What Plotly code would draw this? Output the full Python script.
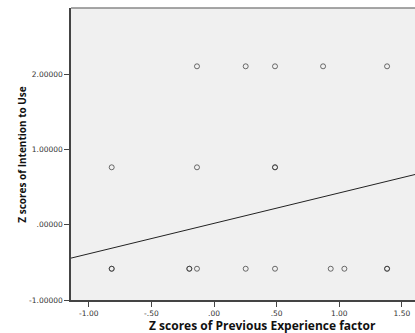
import plotly.graph_objects as go

# Data (duplicates where markers appear bold = overlapping)
x_vals = [-0.136, 0.253, 0.487, 0.871, 1.382,
          -0.817, -0.136, 0.487, 0.487,
          -0.817, -0.817, -0.197, -0.197, -0.136, 0.253, 0.487, 0.932, 1.041, 1.382, 1.382]
y_vals = [2.11, 2.11, 2.11, 2.11, 2.11,
          0.766, 0.766, 0.766, 0.766,
          -0.584, -0.584, -0.584, -0.584, -0.584, -0.584, -0.584, -0.584, -0.584, -0.584, -0.584]

fit_slope = 0.405
fit_intercept = 0.02

x_range = [-1.142, 1.605]
y_range = [-1.0, 2.886]

x_tickvals = [-1.0, -0.5, 0.0, 0.5, 1.0, 1.5]
x_ticktext = ["-1.00", "-.50", ".00", ".50", "1.00", "1.50"]
y_tickvals = [-1.0, 0.0, 1.0, 2.0]
y_ticktext = ["-1.00000", ".00000", "1.00000", "2.00000"]

fit_x = x_range
fit_y = [fit_intercept + fit_slope * v for v in fit_x]

fig = go.Figure()
fig.add_trace(go.Scatter(
    x=fit_x, y=fit_y, mode="lines",
    line=dict(color="#222222", width=1), hoverinfo="skip", showlegend=False))
fig.add_trace(go.Scatter(
    x=x_vals, y=y_vals, mode="markers",
    marker=dict(symbol="circle-open", size=5, color="rgba(50,50,50,0.7)",
                line=dict(width=1, color="rgba(50,50,50,0.7)")),
    showlegend=False))

tickfont = dict(family="DejaVu Sans", size=7.5, color="#333333")
fig.update_layout(
    width=415, height=333,
    margin=dict(l=71, r=0, t=8, b=33),
    paper_bgcolor="white", plot_bgcolor="#F0F0F0",
    showlegend=False,
    xaxis=dict(range=x_range, tickvals=x_tickvals, ticktext=x_ticktext,
               showgrid=False, zeroline=False, showline=True, linecolor="#444444",
               linewidth=1.5, ticks="outside", ticklen=5, tickcolor="#444444",
               tickfont=tickfont, fixedrange=True),
    yaxis=dict(range=y_range, tickvals=y_tickvals, ticktext=y_ticktext,
               showgrid=False, zeroline=False, showline=True, linecolor="#444444",
               linewidth=1.5, ticks="outside", ticklen=5, tickcolor="#444444",
               tickfont=tickfont, fixedrange=True),
    shapes=[dict(type="line", xref="paper", yref="paper", x0=0, x1=1, y0=1, y1=1,
                 line=dict(color="#888888", width=1.5))],
    annotations=[
        dict(text="<b>Z scores of Previous Experience factor</b>", xref="paper", yref="paper",
             x=0.558, y=-0.087, yanchor="middle", xanchor="center", showarrow=False,
             font=dict(family="Open Sans", size=12, color="#111111")),
        dict(text="<b>Z scores of Intention to Use</b>", xref="paper", yref="paper",
             x=-0.143, y=0.497, textangle=-90, xanchor="center", yanchor="middle",
             showarrow=False, font=dict(family="Open Sans", size=10, color="#111111")),
    ],
)
fig.write_html("out.html")
